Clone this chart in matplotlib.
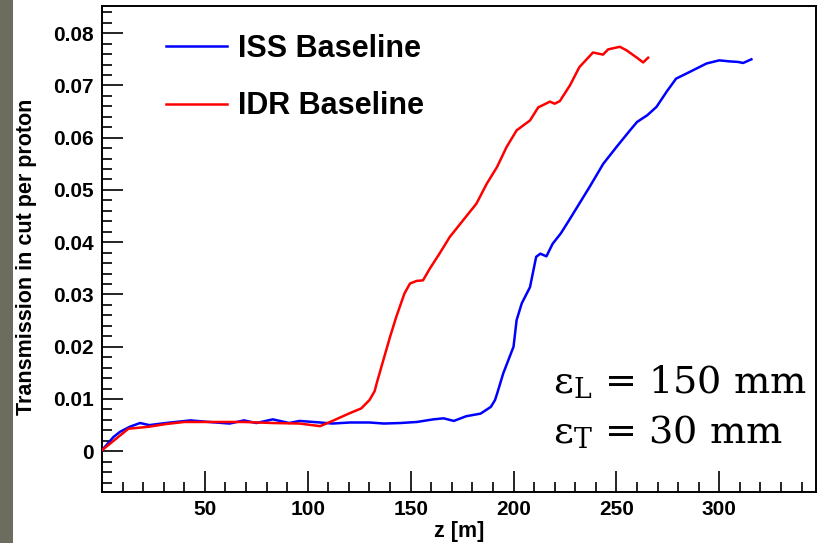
import matplotlib
matplotlib.use("Agg")
import matplotlib.pyplot as plt
from matplotlib.patches import Rectangle
from matplotlib.ticker import FixedLocator, MultipleLocator

# ---- data ----
iss_z = [0, 5.5, 8.7, 13.6, 18.5, 23, 31, 43, 52, 62, 69, 75, 83, 91, 96, 106, 112,
         120.5, 130, 137, 145, 153, 161, 166, 171, 177, 184, 189, 191, 192, 195, 200,
         201.5, 204, 208, 211, 213, 216, 219, 223, 227, 232, 237, 243.6, 250, 256.6,
         260, 265, 269.5, 274.4, 279, 285.7, 293.8, 300, 305, 309, 311.6, 315.6]
iss_t = [0.0002, 0.0027, 0.0037, 0.0047, 0.0054, 0.0050, 0.0054, 0.0059, 0.0056,
         0.0053, 0.0059, 0.0054, 0.0061, 0.0054, 0.0058, 0.0055, 0.0053, 0.0055,
         0.0055, 0.0053, 0.0054, 0.0056, 0.0061, 0.0063, 0.0058, 0.0067, 0.0072,
         0.0085, 0.0098, 0.0110, 0.0149, 0.0200, 0.0251, 0.0283, 0.0314, 0.0372,
         0.0378, 0.0373, 0.0397, 0.0417, 0.0442, 0.0474, 0.0506, 0.0550, 0.0582,
         0.0614, 0.0630, 0.0643, 0.0659, 0.0688, 0.0713, 0.0726, 0.0742, 0.0748,
         0.0746, 0.0745, 0.0743, 0.0750]

idr_z = [0, 12.8, 23, 31, 40, 56, 69, 83, 96, 106, 112, 120.5, 126, 130, 132.5,
         133.5, 136.7, 140, 143, 147, 149.7, 153, 156, 159.4, 164, 169, 175.5, 182,
         187, 192, 196.6, 201.5, 208, 212, 217.7, 220, 222.5, 227.4, 232, 238.6,
         243.5, 246, 251.7, 255, 260, 263, 265.4]
idr_t = [0.0002, 0.0043, 0.0047, 0.0052, 0.0056, 0.0056, 0.0056, 0.0054, 0.0053,
         0.0048, 0.0058, 0.0073, 0.0082, 0.0098, 0.0115, 0.0130, 0.0174, 0.0219,
         0.0257, 0.0302, 0.0321, 0.0326, 0.0327, 0.0350, 0.0378, 0.0410, 0.0442,
         0.0474, 0.0512, 0.0544, 0.0582, 0.0614, 0.0633, 0.0658, 0.0669, 0.0665,
         0.0670, 0.0700, 0.0735, 0.0763, 0.0759, 0.0769, 0.0774, 0.0767, 0.0753,
         0.0744, 0.0753]

series_labels = ["ISS Baseline", "IDR Baseline"]
x_ticks = [50, 100, 150, 200, 250, 300]
y_ticks = [0, 0.01, 0.02, 0.03, 0.04, 0.05, 0.06, 0.07, 0.08]
y_tick_labels = ["0", "0.01", "0.02", "0.03", "0.04", "0.05", "0.06", "0.07", "0.08"]
x_label = "z [m]"
y_label = "Transmission in cut per proton"
annot_lines = ["ε$_{\\mathrm{L}}$ = 150 mm", "ε$_{\\mathrm{T}}$ = 30 mm"]

# ---- figure ----
W, H = 822, 543
plt.rcParams["font.family"] = ["Liberation Sans", "DejaVu Sans"]
plt.rcParams["mathtext.fontset"] = "dejavuserif"
fig = plt.figure(figsize=(W / 100, H / 100), dpi=100)
fig.patch.set_facecolor("white")

# left gray strip
fig.patches.append(Rectangle((0, 0), 13 / W, 1, transform=fig.transFigure,
                             facecolor="#6c6c5f", edgecolor="none", zorder=0))

L, R, B, T = 102, 816, 492, 6
ax = fig.add_axes([L / W, (H - B) / H, (R - L) / W, (B - T) / H])

ax.plot(iss_z, iss_t, color="#0000ff", lw=1.8, label=series_labels[0], zorder=3)
ax.plot(idr_z, idr_t, color="#ff0000", lw=1.8, label=series_labels[1], zorder=3)

ax.set_xlim(0, 347)
ax.set_ylim(-0.0078, 0.0852)

ax.xaxis.set_major_locator(FixedLocator(x_ticks))
ax.xaxis.set_minor_locator(MultipleLocator(10))
ax.set_yticks(y_ticks)
ax.set_yticklabels(y_tick_labels)
ax.yaxis.set_minor_locator(MultipleLocator(0.002))

ax.tick_params(which="both", direction="in", top=False, right=False, width=1.2,
               labelsize=15, pad=6)
ax.tick_params(which="major", length=15)
ax.tick_params(which="minor", length=7.5)
for lab in ax.get_xticklabels() + ax.get_yticklabels():
    lab.set_fontweight("bold")

for s in ax.spines.values():
    s.set_linewidth(1.4)
    s.set_color("black")

ax.set_xlabel(x_label, fontsize=15.5, fontweight="bold", labelpad=1)
ax.set_ylabel(y_label, fontsize=15.5, fontweight="bold")
ax.yaxis.set_label_coords((37 - L) / (R - L), (B - 257) / (B - T))

leg = ax.legend(loc="upper left", bbox_to_anchor=((166 - L) / (R - L), (B - 34) / (B - T)),
                frameon=False, prop={"size": 22, "weight": "bold"},
                handlelength=2.0, handletextpad=0.36, labelspacing=0.9,
                borderpad=0, borderaxespad=0)
for h in leg.get_lines():
    h.set_linewidth(1.8)

for i, line in enumerate(annot_lines):
    ax.text((553 - L) / (R - L), (B - (393 + 50 * i)) / (B - T), line,
            transform=ax.transAxes, fontsize=27.5, family="DejaVu Serif",
            ha="left", va="baseline")

fig.savefig("out.png", dpi=100, facecolor="white")
